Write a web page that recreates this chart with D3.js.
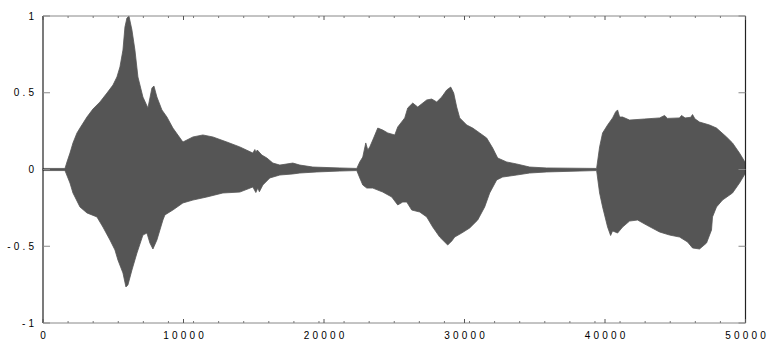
<!DOCTYPE html>
<html><head><meta charset="utf-8">
<script src="https://cdn.jsdelivr.net/npm/d3@7"></script>
<style>body{margin:0;background:#fff;overflow:hidden}</style>
</head><body><svg id="c" width="768" height="339"></svg>
<script>
const xTicks = [0, 10000, 20000, 30000, 40000, 50000];
const yTicks = [-1, -0.5, 0, 0.5, 1];
const xMinorCount = 28;
// upper envelope of the waveform: [sample, amplitude]
const upperEnv = [
 [0,0.007],[1565,0.007],[1707,0.049],[1920,0.107],[2134,0.173],[2418,0.238],[2632,0.270],
 [3129,0.342],[3556,0.394],[4054,0.440],[4552,0.498],[4979,0.550],[5263,0.603],[5477,0.668],
 [5690,0.778],[5832,0.928],[5974,0.987],[6117,1.0],[6330,0.909],[6543,0.778],[6757,0.603],
 [7112,0.472],[7468,0.401],[7753,0.531],[7895,0.544],[8108,0.472],[8464,0.388],[8819,0.342],
 [9246,0.270],[9957,0.179],[10669,0.212],[11380,0.225],[12091,0.212],[13087,0.179],[14011,0.147],
 [14936,0.107],[15080,0.130],[15150,0.110],[15250,0.127],[15576,0.094],[15932,0.075],[16359,0.042],
 [16856,0.029],[17781,0.042],[18279,0.029],[19203,0.016],[21124,0.010],[22333,0.007],
 [22546,0.049],[22760,0.081],[22973,0.173],[23116,0.127],[23258,0.147],[23471,0.192],[23827,0.270],
 [24182,0.257],[24538,0.238],[25036,0.225],[25249,0.277],[25747,0.336],[25960,0.401],[26316,0.433],
 [26671,0.407],[27312,0.453],[27667,0.459],[28023,0.440],[28378,0.472],[28734,0.518],[29019,0.537],
 [29232,0.498],[29445,0.407],[29659,0.336],[30157,0.290],[30583,0.270],[31081,0.238],[31579,0.205],
 [32006,0.140],[32361,0.075],[33002,0.049],[33713,0.036],[34637,0.016],[35846,0.010],[39403,0.007],
 [39616,0.147],[39829,0.238],[40185,0.290],[40541,0.336],[40754,0.375],[40896,0.388],[41040,0.342],
 [41252,0.342],[41749,0.322],[42816,0.329],[43883,0.336],[44239,0.352],[44450,0.333],[45300,0.336],
 [45448,0.352],[45700,0.336],[46100,0.340],[46230,0.358],[46400,0.330],[46728,0.309],[47439,0.290],
 [47937,0.270],[48648,0.212],[49075,0.173],[49573,0.107],[49787,0.075],[50000,0.042]
];
// lower envelope of the waveform: [sample, amplitude]
const lowerEnv = [
 [0,-0.007],[1565,-0.007],[1920,-0.088],[2134,-0.153],[2632,-0.244],[3129,-0.283],[3840,-0.309],
 [4267,-0.375],[4765,-0.459],[5121,-0.524],[5334,-0.590],[5690,-0.674],[5903,-0.765],[6045,-0.752],
 [6330,-0.655],[6686,-0.544],[7112,-0.427],[7397,-0.414],[7610,-0.479],[7824,-0.518],[8108,-0.459],
 [8321,-0.394],[8535,-0.329],[8677,-0.296],[9246,-0.264],[9957,-0.218],[10669,-0.199],[11664,-0.179],
 [12802,-0.153],[14011,-0.147],[14936,-0.114],[15150,-0.150],[15292,-0.120],[15400,-0.145],[15647,-0.101],
 [16145,-0.055],[16856,-0.036],[17781,-0.029],[18279,-0.023],[19488,-0.016],[21124,-0.010],[22333,-0.007],
 [22546,-0.055],[22760,-0.101],[23045,-0.121],[23471,-0.121],[24182,-0.147],[24822,-0.179],[25249,-0.231],
 [25605,-0.212],[25889,-0.212],[26245,-0.264],[26813,-0.277],[27312,-0.309],[27738,-0.375],[28236,-0.440],
 [28805,-0.492],[29100,-0.465],[29303,-0.440],[29801,-0.414],[30370,-0.381],[30939,-0.329],[31436,-0.244],
 [31792,-0.153],[32290,-0.068],[32717,-0.049],[33713,-0.036],[34637,-0.023],[35846,-0.016],[39403,-0.007],
 [39616,-0.153],[39829,-0.244],[40185,-0.375],[40400,-0.430],[40541,-0.400],[40896,-0.414],[41252,-0.375],
 [41749,-0.336],[42318,-0.329],[42958,-0.362],[43883,-0.407],[44594,-0.427],[45306,-0.440],[45875,-0.472],
 [46230,-0.511],[46728,-0.518],[47226,-0.479],[47581,-0.394],[47652,-0.309],[47937,-0.244],[48364,-0.199],
 [49075,-0.153],[49573,-0.088],[50000,-0.023]
];

const svg = d3.select('#c');
const L = 43, R = 745.5, T = 16, B = 323;
const x = d3.scaleLinear().domain([0, 50000]).range([L, R]);
const y = d3.scaleLinear().domain([-1, 1]).range([B, T]);

// waveform
const pts = upperEnv.concat(lowerEnv.slice().reverse());
const line = d3.line().x(d => x(d[0])).y(d => y(d[1]));
svg.append('path').attr('d', line(pts) + 'Z')
  .attr('fill', '#555').attr('stroke', '#555').attr('stroke-width', 0.8).attr('stroke-linejoin', 'round');

// frame
const g = svg.append('g');
g.append('line').attr('x1', L).attr('x2', R).attr('y1', T).attr('y2', T).attr('stroke', '#888').attr('stroke-width', 1);
g.append('line').attr('x1', L).attr('x2', R).attr('y1', B).attr('y2', B).attr('stroke', '#888').attr('stroke-width', 1);
g.append('line').attr('x1', L).attr('x2', L).attr('y1', T).attr('y2', B).attr('stroke', '#222').attr('stroke-width', 1.2);
g.append('line').attr('x1', R).attr('x2', R).attr('y1', T).attr('y2', B).attr('stroke', '#222').attr('stroke-width', 1.2);

// minor x ticks
const minor = d3.range(0, xMinorCount + 1).map(i => i * 50000 / xMinorCount);
minor.forEach(v => {
  g.append('line').attr('x1', x(v)).attr('x2', x(v)).attr('y1', B).attr('y2', B - 2).attr('stroke', '#777');
  g.append('line').attr('x1', x(v)).attr('x2', x(v)).attr('y1', T).attr('y2', T + 2).attr('stroke', '#777');
});
// major x ticks
xTicks.forEach(v => {
  g.append('line').attr('x1', x(v)).attr('x2', x(v)).attr('y1', B).attr('y2', B - 4).attr('stroke', '#555');
  g.append('line').attr('x1', x(v)).attr('x2', x(v)).attr('y1', T).attr('y2', T + 4).attr('stroke', '#555');
});
// y ticks
yTicks.forEach(v => {
  g.append('line').attr('x1', L).attr('x2', L + 7).attr('y1', y(v)).attr('y2', y(v)).attr('stroke', '#888');
  g.append('line').attr('x1', R).attr('x2', R - 7).attr('y1', y(v)).attr('y2', y(v)).attr('stroke', '#888');
});

const font = "'Liberation Sans', Arial, sans-serif";
const ls = 3.2;
g.selectAll('text.xl').data(xTicks).enter().append('text')
  .attr('x', d => x(d) + ls / 2).attr('y', 338.5)
  .attr('text-anchor', 'middle').attr('font-family', font).attr('font-size', 10)
  .attr('letter-spacing', ls).attr('fill', '#000').text(d => d3.format('d')(d));
g.selectAll('text.yl').data(yTicks).enter().append('text')
  .attr('x', 34 + ls).attr('y', d => y(d) + 3.6)
  .attr('text-anchor', 'end').attr('font-family', font).attr('font-size', 10)
  .attr('letter-spacing', ls).attr('fill', '#000').text(d => String(d));
</script>
</body></html>
